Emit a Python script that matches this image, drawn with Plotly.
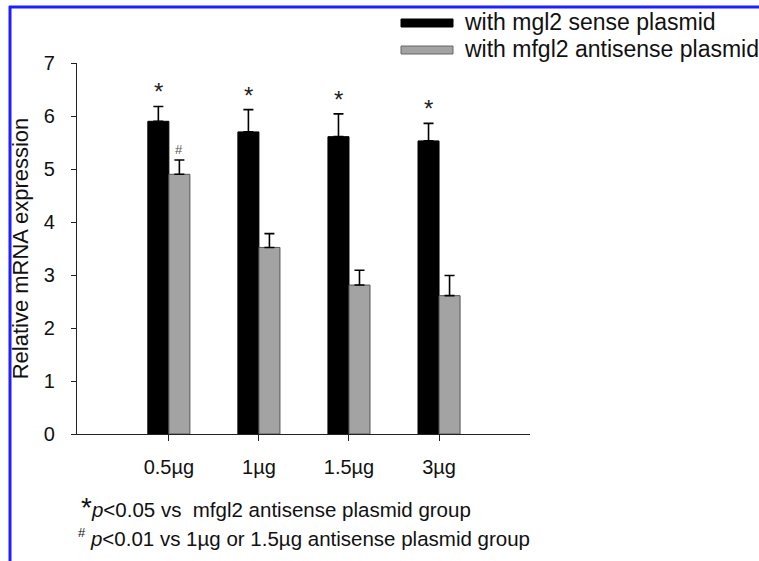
import plotly.graph_objects as go

categories = ["0.5µg", "1µg", "1.5µg", "3µg"]
sense_vals = [5.90, 5.70, 5.61, 5.53]
sense_err = [0.28, 0.42, 0.43, 0.33]
anti_vals = [4.90, 3.52, 2.81, 2.61]
anti_err = [0.27, 0.26, 0.28, 0.38]
sense_marks = ["*", "*", "*", "*"]
anti_marks = ["#", "", "", ""]
series_names = ["with mgl2 sense plasmid", "with mfgl2 antisense plasmid"]

FONT = "Arial, Liberation Sans, sans-serif"
xs = list(range(len(categories)))
bargap = 0.533
bw = (1 - bargap) / 2

fig = go.Figure()
fig.add_trace(go.Bar(
    x=xs, y=sense_vals, name=series_names[0],
    marker=dict(color="#000000", line=dict(color="#000000", width=1)),
    error_y=dict(type="data", symmetric=False, array=sense_err,
                 arrayminus=[0] * len(sense_err), color="#000000",
                 thickness=1.6, width=5),
    showlegend=False,
))
fig.add_trace(go.Bar(
    x=xs, y=anti_vals, name=series_names[1],
    marker=dict(color="#a3a3a3", line=dict(color="#555555", width=1)),
    error_y=dict(type="data", symmetric=False, array=anti_err,
                 arrayminus=[0] * len(anti_err), color="#000000",
                 thickness=1.6, width=5),
    showlegend=False,
))

annotations = []
for i in xs:
    if sense_marks[i]:
        annotations.append(dict(x=i - bw / 2, y=sense_vals[i] + sense_err[i],
                                text=sense_marks[i], showarrow=False,
                                yanchor="bottom", yshift=-1,
                                font=dict(family=FONT, size=24, color="#222")))
    if anti_marks[i]:
        annotations.append(dict(x=i + bw / 2, y=anti_vals[i] + anti_err[i],
                                text=anti_marks[i], showarrow=False,
                                yanchor="bottom", yshift=1,
                                font=dict(family=FONT, size=13, color="#555")))

# legend (custom swatches)
L, T, PW, PH = 77, 63, 453, 371
def px(x):
    return (x - L) / PW
def py(y):
    return (T + PH - y) / PH

legend_rows = [(series_names[0], "#000000", "#000000", 23),
               (series_names[1], "#a3a3a3", "#666666", 50)]
shapes = []
for name, fill, edge, yc in legend_rows:
    shapes.append(dict(type="rect", xref="paper", yref="paper",
                       x0=px(401), x1=px(453), y0=py(yc + 4), y1=py(yc - 4),
                       fillcolor=fill, line=dict(color=edge, width=1)))
    annotations.append(dict(xref="paper", yref="paper", x=px(462), y=py(yc - 1),
                            xanchor="left", yanchor="middle", showarrow=False,
                            text=name, font=dict(family=FONT, size=23, color="#111")))

# blue frame lines
shapes.append(dict(type="line", xref="paper", yref="paper",
                   x0=px(9), x1=px(770), y0=py(7), y1=py(7),
                   line=dict(color="#1f1fff", width=3)))
shapes.append(dict(type="line", xref="paper", yref="paper",
                   x0=px(10), x1=px(10), y0=py(6), y1=py(570),
                   line=dict(color="#1f1fff", width=3)))

# footnotes
annotations.append(dict(xref="paper", yref="paper", x=px(79), y=py(507),
                        xanchor="left", yanchor="middle", showarrow=False,
                        text="<span style='font-size:28px'>*</span><i>p</i>&lt;0.05 vs &nbsp;mfgl2 antisense plasmid group",
                        font=dict(family=FONT, size=20.5, color="#111")))
annotations.append(dict(xref="paper", yref="paper", x=px(76), y=py(537),
                        xanchor="left", yanchor="middle", showarrow=False,
                        text="<sup><span style='font-size:13px'>#</span></sup> <i>p</i>&lt;0.01 vs 1µg or 1.5µg antisense plasmid group",
                        font=dict(family=FONT, size=20.5, color="#111")))

fig.update_layout(
    width=759, height=561, autosize=False,
    margin=dict(l=L, r=759 - L - PW, t=T, b=561 - T - PH, pad=0),
    paper_bgcolor="white", plot_bgcolor="white",
    barmode="group", bargap=bargap, bargroupgap=0,
    font=dict(family=FONT, size=20, color="#111"),
    xaxis=dict(range=[-1.02, 4.01], tickmode="array", tickvals=xs,
               ticktext=categories, showline=True, linecolor="#222",
               linewidth=1.2, ticks="outside", ticklen=6, tickcolor="#222",
               showgrid=False, zeroline=False, tickfont=dict(size=20),
               ticklabelstandoff=9),
    yaxis=dict(range=[0, 7], dtick=1, showline=True, linecolor="#222",
               linewidth=1.2, ticks="outside", ticklen=5, tickcolor="#222",
               showgrid=False, zeroline=False, tickfont=dict(size=20),
               ticklabelstandoff=12,
               title=dict(text="Relative mRNA expression", standoff=9,
                          font=dict(size=22))),
    annotations=annotations, shapes=shapes,
)

fig.write_html("out.html", config={"displayModeBar": False},
               post_script="document.body.style.margin='0';document.body.style.overflow='hidden';")
